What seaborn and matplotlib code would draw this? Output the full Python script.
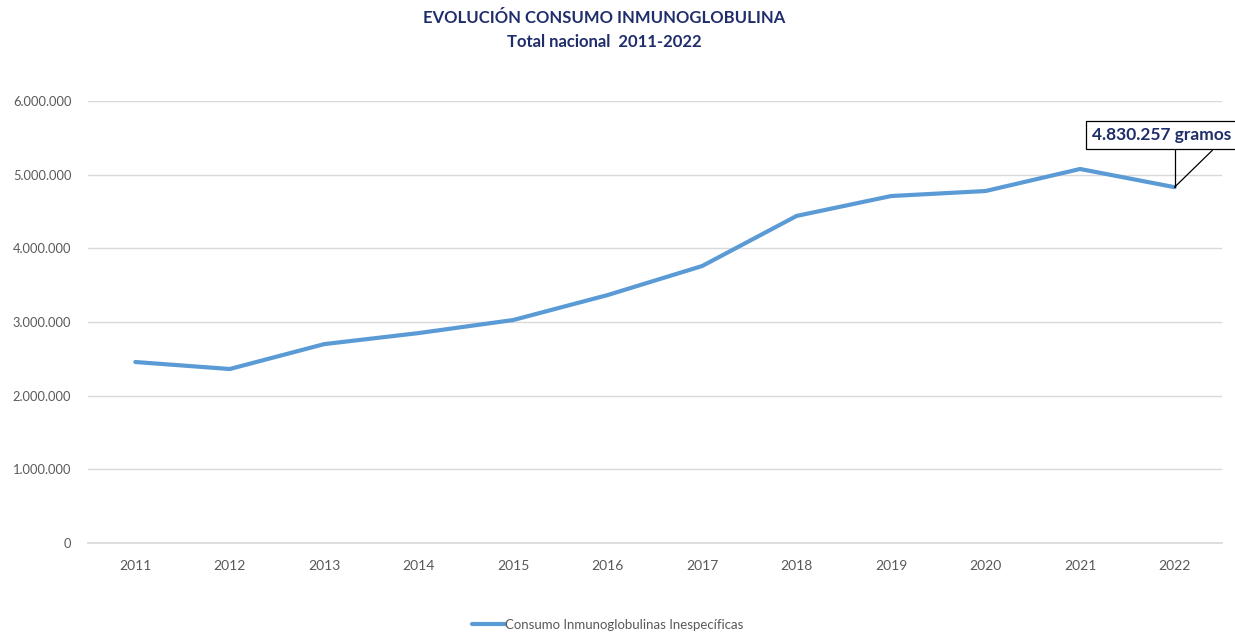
import pandas as pd
import matplotlib
matplotlib.use("Agg")
import matplotlib.pyplot as plt
from matplotlib.ticker import FuncFormatter
import seaborn as sns

# Datos
years = ['2011', '2012', '2013', '2014', '2015', '2016',
         '2017', '2018', '2019', '2020', '2021', '2022']
consumo = [2457000, 2362000, 2700000, 2850000, 3027000, 3366000,
           3760000, 4440000, 4710000, 4778000, 5077000, 4830257]
serie = 'Consumo Inmunoglobulinas Inespecíficas'

df = pd.DataFrame({'year': years, 'consumo': consumo})

sns.set_theme(style='white')
plt.rcParams['font.family'] = ['Lato', 'DejaVu Sans']

fig = plt.figure(figsize=(12.35, 6.34), dpi=100)
ax = fig.add_axes([0.0713, 0.1435, 0.918, 0.6972])

sns.lineplot(data=df, x='year', y='consumo', color='#5B9BD5',
             linewidth=3, label=serie, ax=ax)

ax.set_xlim(-0.5, len(years) - 0.5)
ax.set_ylim(0, 6000000)
ax.set_yticks(range(0, 6000001, 1000000))
ax.yaxis.set_major_formatter(
    FuncFormatter(lambda v, p: f"{v:,.0f}".replace(',', '.')))
ax.grid(axis='y', color='#d9d9d9', linewidth=1)
ax.set_axisbelow(True)
for s in ['top', 'right', 'left']:
    ax.spines[s].set_visible(False)
ax.spines['bottom'].set_color('#d9d9d9')
ax.tick_params(axis='x', colors='#595959', labelsize=10, length=0, pad=12)
ax.tick_params(axis='y', colors='#595959', labelsize=9.3, length=0, pad=12)
ax.set_xlabel('')
ax.set_ylabel('')

fig.text(0.489, 0.972, 'EVOLUCIÓN CONSUMO INMUNOGLOBULINA',
         ha='center', va='center', fontsize=12, fontweight='bold',
         color='#1F2D6B')
fig.text(0.489, 0.934, 'Total nacional  2011-2022',
         ha='center', va='center', fontsize=12, fontweight='bold',
         color='#1F2D6B')

# Etiqueta del último valor con llamada
last_x = len(years) - 1
last_y = consumo[-1]
box_y = last_y + 500000
ax.plot([last_x, last_x], [last_y, box_y], color='black', lw=0.9,
        clip_on=False)
ax.plot([last_x, last_x + 0.4], [last_y, box_y], color='black', lw=0.9,
        clip_on=False)
label = f"{last_y:,.0f}".replace(',', '.') + ' gramos'
ax.text(last_x - 0.87, box_y + 210000, label, ha='left', va='center',
        fontsize=12.5, fontweight='bold', color='#1F2D6B', clip_on=False,
        bbox=dict(boxstyle='square,pad=0.35', fc='white', ec='black', lw=0.9))

leg = ax.legend(loc='upper center', bbox_to_anchor=(0.458, -0.145),
                frameon=False, fontsize=9.5, handlelength=2.5,
                handletextpad=0.0)
for t in leg.get_texts():
    t.set_color('#595959')

fig.savefig('out.png', dpi=100, facecolor='white')
